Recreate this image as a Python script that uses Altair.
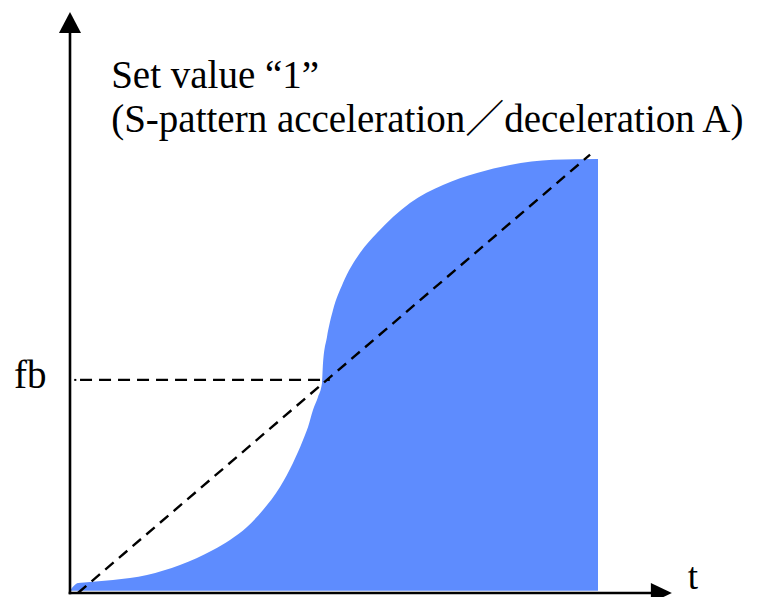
import altair as alt
import pandas as pd

# S-curve edge of the filled region (t in %, f in %)
curve_t = [0.0, 1.52, 3.79, 8.14, 14.58, 20.83, 27.08, 30.30, 33.52, 36.55, 39.77, 42.23,
           44.13, 45.08, 46.02, 46.97, 47.73, 47.92, 48.67, 49.81, 51.70, 54.92, 58.14,
           64.39, 70.64, 77.08, 83.33, 91.48, 100.0]
curve_f = [0.5, 2.30, 2.53, 3.00, 4.15, 6.45, 9.91, 12.21, 15.21, 19.12, 24.42, 29.95,
           35.25, 38.25, 42.17, 45.16, 48.39, 53.00, 58.99, 65.21, 71.43, 78.34, 82.95,
           89.86, 94.01, 96.77, 98.62, 99.8, 100.0]
area_base = 0.5

# dashed straight line (linear reference) and fb level
diag_t = [1.5, 98.5]
diag_f = [0.0, 101.0]
fb_level = 49.1
fb_t = [1.9, 49.2]

# axes
y_axis_top = 129.7
x_axis_end = 110.2
arrow_up = (0.0, 131.45)
arrow_right = (112.0, 0.0)

labels = ["Set value \u201c1\u201d", "(S-pattern acceleration\uff0fdeceleration A)", "fb"]
label_t = [7.8, 7.8, -10.6]
label_f = [116.3, 106.3, 47.2]
t_label = "t"
t_label_pos = (117.0, -0.9217)

BLUE = "#5E8CFE"
FONT = "Liberation Serif, Noto Sans CJK JP"

xs = alt.Scale(domain=[-11.742, 128.598], nice=False, zero=False)
ys = alt.Scale(domain=[-0.9217, 134.793], nice=False, zero=False)

curve_df = pd.DataFrame({"t": curve_t, "f": curve_f,
                         "base": [area_base] * len(curve_t)})
area = alt.Chart(curve_df).mark_area(color=BLUE, opacity=1, interpolate="monotone").encode(
    x=alt.X("t:Q", scale=xs, axis=None),
    y=alt.Y("f:Q", scale=ys, axis=None),
    y2="base:Q",
)

diag_df = pd.DataFrame({"t": diag_t, "f": diag_f})
diag = alt.Chart(diag_df).mark_line(color="black", strokeWidth=2.4, strokeDash=[11, 7]).encode(
    x=alt.X("t:Q", scale=xs, axis=None),
    y=alt.Y("f:Q", scale=ys, axis=None),
)

fb_df = pd.DataFrame({"t": fb_t, "f": [fb_level, fb_level]})
fbline = alt.Chart(fb_df).mark_line(color="black", strokeWidth=2.4, strokeDash=[12, 7]).encode(
    x=alt.X("t:Q", scale=xs, axis=None),
    y=alt.Y("f:Q", scale=ys, axis=None),
)
fbdot_df = pd.DataFrame({"t": [0.8], "t2": [1.2], "f": [fb_level]})
fbdot = alt.Chart(fbdot_df).mark_rule(color="black", strokeWidth=2).encode(
    x=alt.X("t:Q", scale=xs, axis=None), x2="t2:Q",
    y=alt.Y("f:Q", scale=ys, axis=None),
)

yaxis_df = pd.DataFrame({"t": [0.0], "f": [-0.3], "f2": [y_axis_top]})
yaxis = alt.Chart(yaxis_df).mark_rule(color="black", strokeWidth=2.6).encode(
    x=alt.X("t:Q", scale=xs, axis=None),
    y=alt.Y("f:Q", scale=ys, axis=None), y2="f2:Q",
)
xaxis_df = pd.DataFrame({"t": [-0.25], "t2": [x_axis_end], "f": [0.0]})
xaxis = alt.Chart(xaxis_df).mark_rule(color="black", strokeWidth=2.6).encode(
    x=alt.X("t:Q", scale=xs, axis=None), x2="t2:Q",
    y=alt.Y("f:Q", scale=ys, axis=None),
)

up_df = pd.DataFrame({"t": [arrow_up[0]], "f": [arrow_up[1]]})
up = alt.Chart(up_df).mark_point(
    shape="M0,-1L1.05,1L-1.05,1Z", filled=True, color="black", opacity=1, size=441, strokeWidth=0
).encode(x=alt.X("t:Q", scale=xs, axis=None), y=alt.Y("f:Q", scale=ys, axis=None))

right_df = pd.DataFrame({"t": [arrow_right[0]], "f": [arrow_right[1]]})
right = alt.Chart(right_df).mark_point(
    shape="M1,0L-1,-0.95L-1,0.95Z", filled=True, color="black", opacity=1, size=441, strokeWidth=0
).encode(x=alt.X("t:Q", scale=xs, axis=None), y=alt.Y("f:Q", scale=ys, axis=None))

lab_df = pd.DataFrame({"t": label_t, "f": label_f, "text": labels})
text = alt.Chart(lab_df).mark_text(
    align="left", baseline="alphabetic", font=FONT, fontSize=39, color="black"
).encode(
    x=alt.X("t:Q", scale=xs, axis=None),
    y=alt.Y("f:Q", scale=ys, axis=None),
    text="text:N",
)

tl_df = pd.DataFrame({"t": [t_label_pos[0]], "f": [t_label_pos[1]], "text": [t_label]})
tl = alt.Chart(tl_df).mark_text(
    align="left", baseline="bottom", font=FONT, fontSize=37, color="black"
).encode(
    x=alt.X("t:Q", scale=xs, axis=None),
    y=alt.Y("f:Q", scale=ys, axis=None),
    text="text:N",
)

chart = alt.layer(area, diag, fbline, fbdot, yaxis, xaxis, up, right, text, tl).properties(
    width=741, height=589, autosize=alt.AutoSizeParams(type="none"), padding=0
).configure_view(stroke=None)

chart.save("out.html", embed_options={"renderer": "svg", "actions": False})
